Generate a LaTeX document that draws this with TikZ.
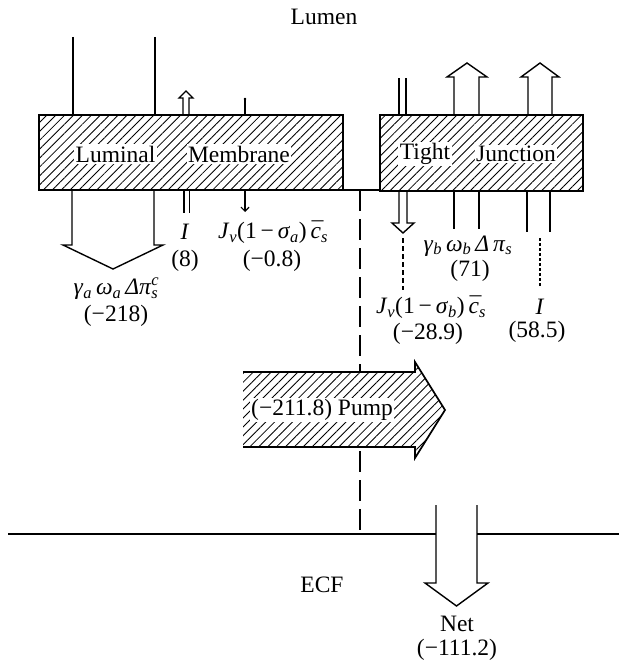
\documentclass[tikz,border=0pt]{standalone}
\usepackage{fontspec}
\setmainfont{Liberation Serif}
\usetikzlibrary{patterns.meta,arrows.meta}
\newcommand{\mysb}[1]{\textsubscript{\itshape #1}}
\newcommand{\mycbar}{{\itshape\accent"00AF c}}
\tikzset{
  border/.style={line width=2.4pt},
  hatch/.style={pattern={Lines[angle=45,distance=6.3pt,line width=0.85pt]}},
  flow/.style={line width=1.4pt, line join=miter},
  lbl/.style={inner sep=0pt},
  boxlbl/.style={fill=white, inner sep=1.5pt},
  fine dash/.style={line width=1.2pt, dash pattern=on 5pt off 3pt},
  finer dash/.style={line width=1.2pt, dash pattern=on 3pt off 2pt},
}
\begin{document}
\begin{tikzpicture}[x=1pt,y=-1pt,font=\fontsize{23.5}{27}\selectfont]
\useasboundingbox (0,0) rectangle (619,661);

% ---- membrane boxes
\fill[white] (39,115) rectangle (343,190);
\path[hatch] (39,115) rectangle (343,190);
\draw[border] (39,115) rectangle (343,190);
\fill[white] (380,115) rectangle (583,191);
\path[hatch] (380,115) rectangle (583,191);
\draw[border] (380,115) rectangle (583,191);
\draw[border] (343,190) -- (380,190);

\node[boxlbl] (lum) at (115.5,154) {Luminal};
\node[boxlbl] (mem) at (239,154) {Membrane};
\node[boxlbl] (tig) at (425,154) {Tight};
\node[boxlbl] (jun) at (516,154) {Junction};

\node[lbl] (lumen) at (324,17) {Lumen};

% ---- luminal membrane fluxes
\draw[flow] (73,37) -- (73,115);
\draw[flow] (155,37) -- (155,115);
\draw[flow] (72,190) -- (72,245) -- (63,245) -- (113,269) -- (163,245) -- (154,245) -- (154,190);
\node[lbl] (ga) at (116,289) {\textit{γ}\mysb{a}\,\textit{ω}\mysb{a}\,\textit{Δπ}\rlap{\textsuperscript{\itshape c}}\mysb{s}};
\node[lbl] (ga2) at (116,316) {(−218)};

\draw[flow] (183,115) -- (183,98) -- (179,98) -- (186,91) -- (193,98) -- (189,98) -- (189,115);
\draw[flow] (184,191) -- (184,213);
\draw[flow] (189.5,191) -- (189.5,213);
\node[lbl] (ia) at (185,232) {\textit{I}};
\node[lbl] (ia2) at (185,261) {(8)};

\draw[flow] (245,98) -- (245,115);
\fill (245,99) circle (1.4pt);
\draw[flow, -{Straight Barb[length=4pt,width=8pt,line width=1.2pt]}] (245,191) -- (245,212);
\node[lbl] (ja) at (273,232) {\textit{J}\mysb{v}(1\,−\,\textit{σ}\mysb{a})\,\mycbar\mysb{s}};
\node[lbl] (ja2) at (272,261) {(−0.8)};

% ---- tight junction fluxes
\draw[flow] (399,78) -- (399,115);
\draw[flow] (406,78) -- (406,115);
\draw[flow] (399,191) -- (399,223) -- (392,223) -- (403,233) -- (414,223) -- (407,223) -- (407,191);
\draw[fine dash] (403,238) -- (403,290);
\node[lbl] (jb) at (431,307) {\textit{J}\mysb{v}(1\,−\,\textit{σ}\mysb{b})\,\mycbar\mysb{s}};
\node[lbl] (jb2) at (428,334) {(−28.9)};

\draw[flow] (454,115) -- (454,77) -- (447,77) -- (467,63) -- (487,77) -- (479,77) -- (479,115);
\draw[flow] (454,191) -- (454,229);
\draw[flow] (479,191) -- (479,229);
\node[lbl] (gb) at (468,246) {\textit{γ}\mysb{b}\,\textit{ω}\mysb{b}\,\textit{Δ}\,\textit{π}\mysb{s}};
\node[lbl] (gb2) at (470,271) {(71)};

\draw[flow] (528,115) -- (528,77) -- (521,77) -- (540,63) -- (559,77) -- (552,77) -- (552,115);
\draw[flow] (527,191) -- (527,232);
\draw[flow] (550,191) -- (550,232);
\draw[finer dash] (540,238) -- (540,286);
\node[lbl] (ib) at (540,307) {\textit{I}};
\node[lbl] (ib2) at (537,332) {(58.5)};

% ---- dashed paracellular line
\draw[line width=2pt, dash pattern=on 21pt off 8pt] (359.5,190) -- (359.5,534);

% ---- pump arrow
\fill[white] (243,372) -- (415,372) -- (415,362) -- (445,410) -- (415,458) -- (415,447) -- (243,447) -- cycle;
\path[hatch] (243,372) -- (415,372) -- (415,362) -- (445,410) -- (415,458) -- (415,447) -- (243,447) -- cycle;
\draw[flow, line width=1.7pt] (243,372) -- (415,372) -- (415,362) -- (445,410) -- (415,458) -- (415,447) -- (243,447);
\node[boxlbl, inner sep=1pt] (pump) at (322,410) {(−211.8) Pump};

% ---- ECF
\draw[border] (8,534) -- (436,534);
\draw[border] (477,534) -- (619,534);
\draw[flow] (436,505) -- (436,583) -- (425,583) -- (456.5,606) -- (488,583) -- (477,583) -- (477,505);
\node[lbl] (ecf) at (322,585) {ECF};
\node[lbl] (net) at (457,624) {Net};
\node[lbl] (net2) at (457,650) {(−111.2)};
\end{tikzpicture}
\end{document}
